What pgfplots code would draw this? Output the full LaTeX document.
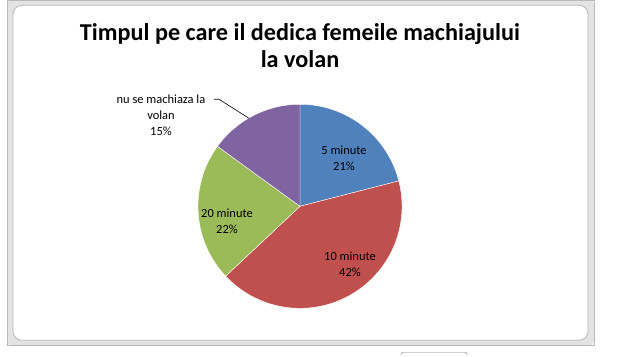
\documentclass[border=0pt]{standalone}
\usepackage{pgfplots}
\pgfplotsset{compat=1.18}
\usepgfplotslibrary{polar}
\usepackage{fontspec}
\setmainfont{Carlito}
\definecolor{pieblue}{HTML}{4F81BD}
\definecolor{piered}{HTML}{C0504D}
\definecolor{piegreen}{HTML}{9BBB59}
\definecolor{piepurple}{HTML}{8064A2}
\definecolor{framegray}{HTML}{E3E3E3}
\definecolor{frameline}{HTML}{B8B8B8}
% shares (percent), clockwise from 12 o'clock
\def\pA{21}\def\pB{42}\def\pC{22}\def\pD{15}
\begin{document}
\begin{tikzpicture}[x=1bp,y=1bp]
\path[fill=white] (0,0) rectangle (624,356);
% Excel chart frame
\fill[framegray,rounded corners=4] (7,11) rectangle (594,356);
\draw[frameline,line width=0.6] (7,11) rectangle (594,356);
\fill[white,rounded corners=9] (13,16) rectangle (588,351);
\draw[frameline,line width=0.8,rounded corners=9] (13,16) rectangle (588,351);
\draw[gray,rounded corners=2] (401,0) -- (401,4) -- (467,4) -- (467,0);
% title
\node[font=\bfseries\fontsize{24.3}{27}\selectfont,align=center] at (300,311) {Timpul pe care il dedica femeile machiajului\\la volan};
\pgfmathsetmacro{\aA}{90}
\pgfmathsetmacro{\aB}{90-3.6*\pA}
\pgfmathsetmacro{\aC}{\aB-3.6*\pB}
\pgfmathsetmacro{\aD}{\aC-3.6*\pC}
\pgfmathsetmacro{\aE}{\aD-3.6*\pD}
\begin{polaraxis}[at={(300bp,150bp)},anchor=center,
  scale only axis,width=204bp,height=204bp,
  hide axis,clip=false,ymin=0,ymax=1,xmin=0,xmax=360]
\addplot[fill=pieblue,draw=white,line width=0.4,domain=\aB:\aA,samples=60] {1} -- (axis cs:0,0) -- cycle;
\addplot[fill=piered,draw=white,line width=0.4,domain=\aC:\aB,samples=80] {1} -- (axis cs:0,0) -- cycle;
\addplot[fill=piegreen,draw=white,line width=0.4,domain=\aD:\aC,samples=60] {1} -- (axis cs:0,0) -- cycle;
\addplot[fill=piepurple,draw=white,line width=0.4,domain=\aE:\aD,samples=40] {1} -- (axis cs:0,0) -- cycle;
\end{polaraxis}
% data labels
\begin{scope}[every node/.style={font=\fontsize{12.5}{16.3}\selectfont,align=center,text=black}]
\node at (344,198) {5 minute\\21\%};
\node at (350,92) {10 minute\\42\%};
\node at (227,135) {20 minute\\22\%};
\node at (161,241) {nu se machiaza la\\volan\\15\%};
\end{scope}
\draw[black,line width=0.6] (214,257) -- (219,257) -- (249,238);
\end{tikzpicture}
\end{document}
